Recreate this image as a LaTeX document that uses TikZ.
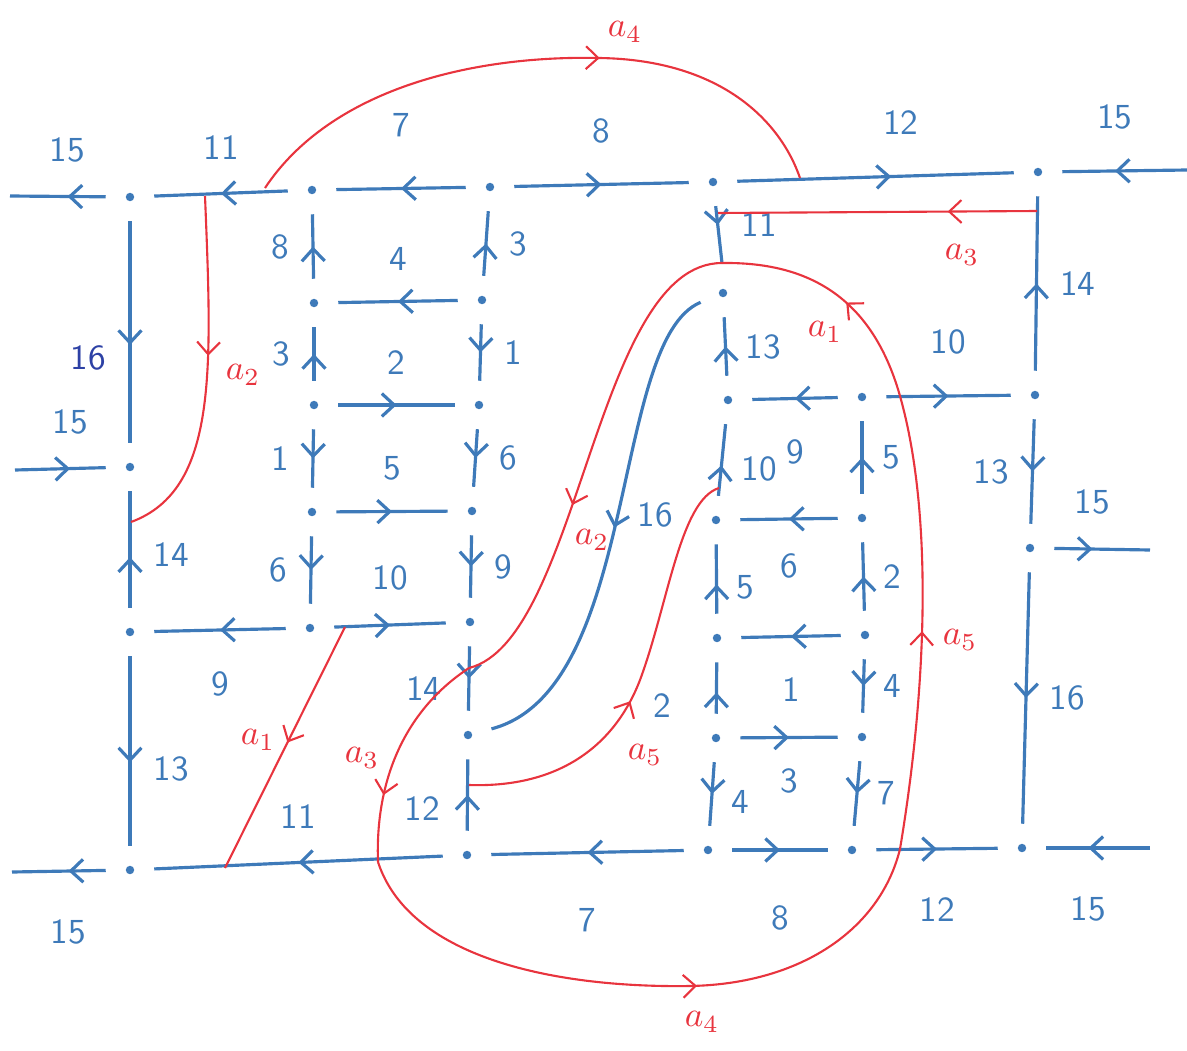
\documentclass[tikz,border=0pt]{standalone}
\usetikzlibrary{arrows.meta, decorations.markings}
\definecolor{ink}{RGB}{62,122,185}
\definecolor{inkdark}{RGB}{45,65,165}
\definecolor{pen}{RGB}{232,52,62}
\tikzstyle{every node}=[font=\sffamily, text=ink]
\tikzstyle{dot}=[circle, fill=ink, inner sep=0pt, minimum size=2.4pt]
\tikzset{
  mid/.style={postaction={decorate, decoration={markings,
      mark=at position #1 with {\arrow{Straight Barb[length=3.5pt,width=6.5pt]}}}}},
  edge/.style={draw=ink, line width=0.9pt, shorten <=5.5pt, shorten >=5.5pt, mid=#1},
  edge/.default=0.5,
  knot/.style={draw=pen, line width=0.6pt, mid=#1},
  knot/.default=0.5,
  tag/.style={text=pen}
}

\begin{document}
\begin{tikzpicture}[x=0.01cm, y=-0.01cm]
\useasboundingbox (0,0) rectangle (1187,1051);
% vertices
\node[dot] (a1) at (130,197) {};
\node[dot] (a2) at (130,467) {};
\node[dot] (a3) at (130,632) {};
\node[dot] (a4) at (130,870) {};
\node[dot] (b1) at (312,190) {};
\node[dot] (b2) at (314,303) {};
\node[dot] (b3) at (314,405) {};
\node[dot] (b4) at (312,512) {};
\node[dot] (b5) at (310,628) {};
\node[dot] (c1) at (490,187) {};
\node[dot] (c2) at (482,300) {};
\node[dot] (c3) at (479,405) {};
\node[dot] (c4) at (472,511) {};
\node[dot] (c5) at (470,622) {};
\node[dot] (c6) at (468,735) {};
\node[dot] (c7) at (467,855) {};
\node[dot] (e1) at (713,182) {};
\coordinate (e2) at (722,263);
\node[dot] (e3) at (723,293) {};
\node[dot] (e4) at (728,400) {};
\node[dot] (e5) at (716,520) {};
\node[dot] (e6) at (717,638) {};
\node[dot] (e7) at (716,738) {};
\node[dot] (e8) at (708,850) {};
\node[dot] (f1) at (862,397) {};
\node[dot] (f2) at (862,518) {};
\node[dot] (f3) at (865,635) {};
\node[dot] (f4) at (862,737) {};
\node[dot] (f5) at (852,850) {};
\node[dot] (d1) at (1038,172) {};
\node[dot] (d2) at (1035,395) {};
\node[dot] (d3) at (1030,548) {};
\node[dot] (d4) at (1022,848) {};
% loose ends
\coordinate (s1) at (10,196);
\coordinate (s2) at (15,470);
\coordinate (s3) at (12,872);
\coordinate (s4) at (1187,170);
\coordinate (s5) at (1150,550);
\coordinate (s6) at (1150,848);
% top row
\draw[edge, shorten >=0pt] (a1) -- node[above=6pt] (w1) {15} (s1);
\draw[edge] (b1) -- node[above=6pt] (w2) {11} (a1);
\draw[edge] (c1) -- node[above=11pt] (w3) {7} (b1);
\draw[edge] (c1) -- node[above=8pt] (w4) {8} (e1);
\draw[edge=0.55] (e1) -- node[pos=0.58, above=8pt] (w5) {12} (d1);
\draw[edge, shorten <=0pt] (s4) -- node[above=8pt] (w6) {15} (d1);
% column a
\draw[edge=0.55] (a1) -- node[pos=0.6, left=3pt, text=inkdark] (w7) {16} (a2);
\draw[edge, shorten <=0pt] (s2) -- node[above=6pt] (w8) {15} (a2);
\draw[edge=0.45] (a3) -- node[pos=0.47, right=3pt] (w9) {14} (a2);
\draw[edge=0.55] (a3) -- node[pos=0.58, right=3pt] (w10) {13} (a4);
\draw[edge, shorten >=0pt] (a4) -- node[below=10pt] (w11) {15} (s3);
\draw[edge] (b5) -- node[below=8pt] (w12) {9} (a3);
\draw[edge] (b5) -- node[above=6pt] (w13) {10} (c5);
% column b
\draw[edge] (b2) -- node[left=3pt] (w14) {8} (b1);
\draw[edge] (b3) -- node[left=3pt] (w15) {3} (b2);
\draw[edge] (b3) -- node[left=3pt] (w16) {1} (b4);
\draw[edge] (b4) -- node[left=3pt] (w17) {6} (b5);
\draw[edge] (c2) -- node[above=5pt] (w18) {4} (b2);
\draw[edge] (b3) -- node[above=5pt] (w19) {2} (c3);
\draw[edge] (b4) -- node[above=5pt] (w20) {5} (c4);
% column c
\draw[edge] (c2) -- node[right=3pt] (w21) {3} (c1);
\draw[edge] (c2) -- node[right=3pt] (w22) {1} (c3);
\draw[edge] (c3) -- node[right=3pt] (w23) {6} (c4);
\draw[edge] (c4) -- node[right=3pt] (w24) {9} (c5);
\draw[edge] (c5) -- node[pos=0.6, left=4pt] (w25) {14} (c6);
\draw[edge] (c7) -- node[pos=0.38, left=4pt] (w26) {12} (c6);
% bottom row
\draw[edge] (c7) -- node[above=6pt] (w27) {11} (a4);
\draw[edge] (e8) -- node[below=12pt] (w28) {7} (c7);
\draw[edge] (e8) -- node[below=12pt] (w29) {8} (f5);
\draw[edge] (f5) -- node[below=10pt] (w30) {12} (d4);
\draw[edge, shorten <=0pt] (s6) -- node[below=10pt] (w31) {15} (d4);
% column d
\draw[edge] (d2) -- node[right=3pt] (w32) {14} (d1);
\draw[edge] (d2) -- node[left=3pt] (w33) {13} (d3);
\draw[edge, shorten >=0pt] (d3) -- node[above=6pt] (w34) {15} (s5);
\draw[edge] (d3) -- node[right=3pt] (w35) {16} (d4);
% column e and f
\draw[edge, shorten >=0pt] (e1) -- node[right=3pt] (w36) {11} (e2);
\draw[edge] (e4) -- node[right=2pt] (w37) {13} (e3);
\draw[edge=0.45] (e5) -- node[pos=0.42, right=2pt] (w38) {10} (e4);
\draw[edge=0.45] (e6) -- node[pos=0.42, right=2pt] (w39) {5} (e5);
\draw[edge=0.45] (e7) -- node[pos=0.3, left=9pt] (w40) {2} (e6);
\draw[edge] (e7) -- node[pos=0.58, right=2pt] (w41) {4} (e8);
\draw[edge] (f1) -- node[below=8pt] (w42) {9} (e4);
\draw[edge] (f1) -- node[above=8pt] (w43) {10} (d2);
\draw[edge] (f2) -- node[below=6pt] (w44) {6} (e5);
\draw[edge] (f3) -- node[below=8pt] (w45) {1} (e6);
\draw[edge] (e7) -- node[below=5pt] (w46) {3} (f4);
\draw[edge] (f2) -- node[right=2pt] (w47) {5} (f1);
\draw[edge] (f3) -- node[right=2pt] (w48) {2} (f2);
\draw[edge] (f3) -- node[right=2pt] (w49) {4} (f4);
\draw[edge] (f4) -- node[right=2pt] (w50) {7} (f5);
\draw[edge] (e3) .. controls (610,340) and (640,690) .. node[pos=0.5, right=2pt] (w51) {16} (c6);
% red arcs
\coordinate (x4a) at (265,188);
\coordinate (x4b) at (800,178);
\coordinate (x2a) at (205,196);
\coordinate (x2b) at (131,522);
\coordinate (x1a) at (345,627);
\coordinate (x1b) at (225,868);
\coordinate (x3a) at (1037,211);
\coordinate (x3b) at (718,213);
\coordinate (l1) at (469,668);
\coordinate (l2) at (378,862);
\coordinate (l3) at (900,849);
\coordinate (l4) at (900,396);
\coordinate (x5a) at (469,785);
\coordinate (x5b) at (719,488);
\draw[knot=0.6] (x4a) .. controls (330,90) and (470,55) .. (600,58) .. controls (720,60) and (780,120) .. (x4b);
\draw[knot=0.45] (x2a) .. controls (212,370) and (218,490) .. (x2b);
\draw[knot=0.48] (x1a) -- (x1b);
\draw[knot=0.28] (x3a) -- (x3b);
\draw[knot=0.6] (e2) .. controls (595,263) and (580,640) .. (l1);
\draw[knot=0.7] (l1) .. controls (405,710) and (375,780) .. (l2);
\draw[knot=0.58] (l2) .. controls (410,960) and (560,988) .. (690,986) .. controls (800,984) and (880,930) .. (l3);
\draw[knot=0.48] (l3) .. controls (925,700) and (935,520) .. (l4);
\draw[knot=0.45] (l4) .. controls (870,290) and (800,262) .. (e2);
\draw[knot=0.45] (x5a) .. controls (560,788) and (615,745) .. (640,680) .. controls (668,605) and (680,500) .. (x5b);
% arc labels
\node[tag] (t1) at (625,32) {$a_4$};
\node[tag] (t2) at (243,375) {$a_2$};
\node[tag] (t3) at (258,740) {$a_1$};
\node[tag] (t4) at (962,255) {$a_3$};
\node[tag] (t5) at (592,540) {$a_2$};
\node[tag] (t6) at (362,758) {$a_3$};
\node[tag] (t7) at (702,1022) {$a_4$};
\node[tag] (t8) at (960,640) {$a_5$};
\node[tag] (t9) at (825,332) {$a_1$};
\node[tag] (t10) at (645,755) {$a_5$};
\end{tikzpicture}
\end{document}
